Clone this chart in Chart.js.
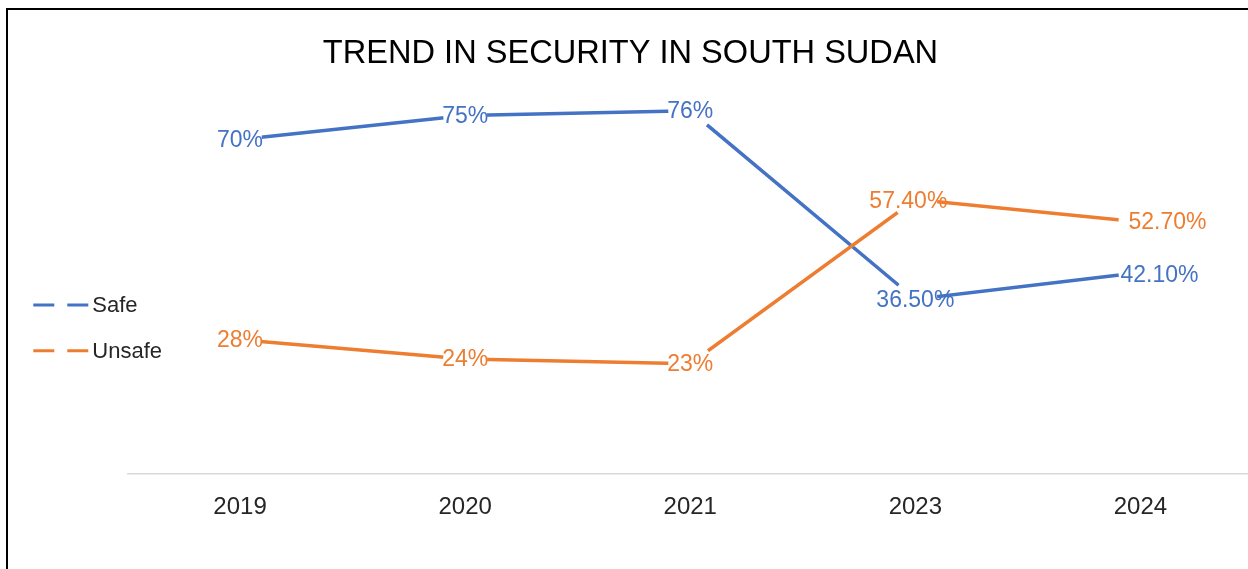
<!DOCTYPE html>
<html>
<head>
<meta charset="utf-8">
<script src="https://cdn.jsdelivr.net/npm/chart.js@4.4.1/dist/chart.umd.min.js"></script>
<style>
  html, body { margin: 0; padding: 0; background: #fff; overflow: hidden; width: 1248px; height: 569px; }
  #frame { position: absolute; left: 6px; top: 8px; width: 1250px; height: 570px;
           border-left: 2px solid #000; border-top: 2px solid #000; }
  #c { position: absolute; left: 8px; top: 10px; }
</style>
</head>
<body>
<div id="frame"></div>
<canvas id="c" width="1245" height="559" style="width:1245px;height:559px"></canvas>
<script>
// ---- data ----
const chartTitle = "TREND IN SECURITY IN SOUTH SUDAN";
const years = ["2019", "2020", "2021", "2023", "2024"];
const seriesNames = ["Safe", "Unsafe"];
const safeValues = [70, 75, 76, 36.5, 42.1];
const unsafeValues = [28, 24, 23, 57.4, 52.7];

const BLUE = '#4472C4';
const ORANGE = '#ED7D31';
const FONT = "'Liberation Sans', Arial, sans-serif";

function fmt(v) {
  return Number.isInteger(v) ? v + '%' : v.toFixed(2) + '%';
}

// label nudges (dataset index -> point index -> [dx, dy])
const labelNudge = { 0: { 4: [19, 2] }, 1: { 3: [-7, 1], 4: [27, 0] } };

const decorPlugin = {
  id: 'decor',
  afterDatasetsDraw(chart) {
    const ctx = chart.ctx;
    ctx.save();
    ctx.font = "23px " + FONT;
    ctx.textAlign = 'center';
    ctx.textBaseline = 'middle';
    chart.data.datasets.forEach((ds, di) => {
      const meta = chart.getDatasetMeta(di);
      meta.data.forEach((pt, i) => {
        const n = (labelNudge[di] && labelNudge[di][i]) || [0, 0];
        ctx.fillStyle = ds.borderColor;
        ctx.fillText(fmt(ds.data[i]), pt.x + n[0], pt.y + n[1] + 1);
      });
    });
    ctx.restore();
  },
  afterDraw(chart) {
    const ctx = chart.ctx;
    ctx.save();
    // title
    ctx.font = "34px " + FONT;
    ctx.fillStyle = '#000';
    ctx.textAlign = 'center';
    ctx.textBaseline = 'alphabetic';
    ctx.translate(622.5, 53.3);
    ctx.scale(0.958, 1);
    ctx.fillText(chartTitle, 0, 0);
    ctx.setTransform(1, 0, 0, 1, 0, 0);
    // legend
    const ys = [295, 340.7];
    chart.data.datasets.forEach((ds, di) => {
      const y = ys[di];
      ctx.strokeStyle = ds.borderColor;
      ctx.lineWidth = 3;
      ctx.setLineDash([21, 13]);
      ctx.beginPath();
      ctx.moveTo(25.3, y);
      ctx.lineTo(80.3, y);
      ctx.stroke();
      ctx.setLineDash([]);
      ctx.font = "22px " + FONT;
      ctx.fillStyle = '#262626';
      ctx.textAlign = 'left';
      ctx.textBaseline = 'middle';
      ctx.fillText(ds.label, 84.3, y + 1);
    });
    ctx.restore();
  }
};

new Chart(document.getElementById('c'), {
  type: 'line',
  data: {
    labels: years,
    datasets: [
      { label: seriesNames[0], data: safeValues, borderColor: BLUE, backgroundColor: BLUE, order: 1 },
      { label: seriesNames[1], data: unsafeValues, borderColor: ORANGE, backgroundColor: ORANGE, order: 0 }
    ]
  },
  options: {
    responsive: false,
    maintainAspectRatio: false,
    devicePixelRatio: 1,
    animation: false,
    events: [],
    layout: { autoPadding: false, padding: { left: 119.5, top: 34, right: 0, bottom: 26.8 } },
    elements: {
      line: { borderWidth: 3.5, tension: 0, borderCapStyle: 'butt' },
      point: { radius: 22, hoverRadius: 22, backgroundColor: '#fff', borderWidth: 0, hoverBorderWidth: 0 }
    },
    datasets: { line: { pointBackgroundColor: '#fff', pointBorderWidth: 0, pointRadius: 22 } },
    plugins: {
      legend: { display: false },
      title: { display: false },
      tooltip: { enabled: false }
    },
    scales: {
      x: {
        offset: true,
        grid: { display: false, drawTicks: false },
        border: { display: true, color: '#D9D9D9', width: 1.5 },
        ticks: { color: '#262626', padding: 20, font: { size: 24, family: FONT } }
      },
      y: {
        display: false,
        min: 0,
        max: 90
      }
    }
  },
  plugins: [decorPlugin]
});
</script>
</body>
</html>
